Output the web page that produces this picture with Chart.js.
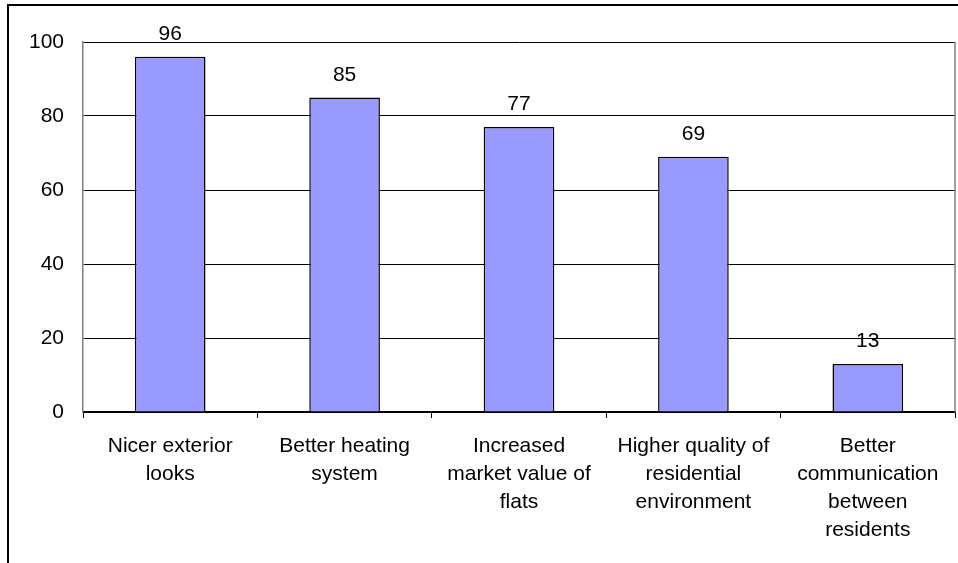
<!DOCTYPE html>
<html>
<head>
<meta charset="utf-8">
<title>Benefits of renovation</title>
<script src="https://cdn.jsdelivr.net/npm/chart.js@4/dist/chart.umd.min.js"></script>
<style>
  html, body { margin: 0; padding: 0; background: #fff; }
  #wrap { position: relative; width: 958px; height: 563px; }
</style>
</head>
<body>
<div id="wrap"><canvas id="benefitChart"></canvas></div>
<script>
// categories (multi-line axis labels) and the values shown above each bar
const categories = [
    ['Nicer exterior', 'looks'],
    ['Better heating', 'system'],
    ['Increased', 'market value of', 'flats'],
    ['Higher quality of', 'residential', 'environment'],
    ['Better', 'communication', 'between', 'residents']
];
const values = [96, 85, 77, 69, 13];
const yTicks = [0, 20, 40, 60, 80, 100];

Chart.defaults.font.family = '"Liberation Sans", Arial, sans-serif';
Chart.defaults.font.size = 21;
Chart.defaults.color = '#000';

// frame around the whole chart + grey right edge of the plot area
const framePlugin = {
    id: 'frame',
    beforeDraw(chart) {
        const ctx = chart.ctx;
        ctx.save();
        ctx.strokeStyle = '#000';
        ctx.lineWidth = 2;
        ctx.beginPath();
        ctx.moveTo(8, chart.height);
        ctx.lineTo(8, 5);
        ctx.lineTo(chart.width, 5);
        ctx.stroke();
        ctx.restore();
    },
    afterDraw(chart) {
        const a = chart.chartArea, ctx = chart.ctx;
        ctx.save();
        ctx.strokeStyle = '#808080';
        ctx.lineWidth = 1.5;
        ctx.beginPath();
        ctx.moveTo(a.right, a.top);
        ctx.lineTo(a.right, a.bottom);
        ctx.stroke();
        ctx.restore();
    }
};

// value label above every bar
const valueLabels = {
    id: 'valueLabels',
    afterDatasetsDraw(chart) {
        const ctx = chart.ctx;
        const meta = chart.getDatasetMeta(0);
        ctx.save();
        ctx.font = '21px "Liberation Sans", Arial, sans-serif';
        ctx.fillStyle = '#000';
        ctx.textAlign = 'center';
        ctx.textBaseline = 'alphabetic';
        meta.data.forEach((bar, i) => {
            ctx.fillText(String(values[i]), bar.x, bar.y - 17);
        });
        ctx.restore();
    }
};

new Chart(document.getElementById('benefitChart'), {
    type: 'bar',
    data: {
        labels: categories,
        datasets: [{
            data: values,
            backgroundColor: '#9999FF',
            borderColor: '#000',
            borderWidth: 1.5,
            categoryPercentage: 1,
            barPercentage: 0.405
        }]
    },
    options: {
        responsive: true,
        maintainAspectRatio: false,
        animation: false,
        layout: { padding: { top: 42, right: 3, left: 0, bottom: 0 } },
        plugins: {
            legend: { display: false },
            tooltip: { enabled: false }
        },
        scales: {
            x: {
                grid: {
                    offset: true,
                    drawOnChartArea: false,
                    drawTicks: true,
                    tickLength: 6,
                    color: '#000'
                },
                border: { color: '#000', width: 1.5 },
                ticks: {
                    padding: 14,
                    maxRotation: 0,
                    autoSkip: false,
                    font: { size: 21, lineHeight: 1.333 }
                },
                afterFit: s => { s.height = 151; }
            },
            y: {
                min: 0,
                max: 100,
                afterBuildTicks: s => { s.ticks = yTicks.map(v => ({ value: v })); },
                grid: { color: '#000', lineWidth: 1, drawTicks: false },
                border: { color: '#808080', width: 1.5 },
                ticks: { padding: 19, font: { size: 21 } },
                afterFit: s => { s.width = 83; }
            }
        }
    },
    plugins: [framePlugin, valueLabels]
});
</script>
</body>
</html>
